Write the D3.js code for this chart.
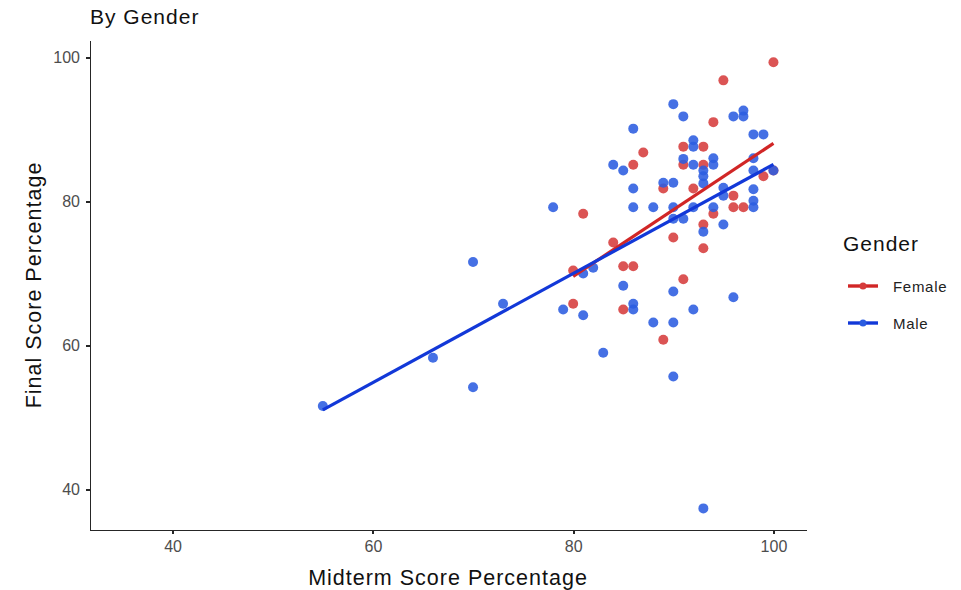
<!DOCTYPE html>
<html>
<head>
  <meta charset="utf-8">
  <title>By Gender</title>
  <style>
    body { margin: 0; background: #fff; }
    text { font-family: "Liberation Sans", Arial, sans-serif; }
    .axis path, .axis line { stroke: #262626; stroke-width: 1.8; shape-rendering: crispEdges; }
    .axis text { fill: #4d4d4d; font-size: 16px; font-family: "Liberation Sans", Arial, sans-serif; }
  </style>
</head>
<body>
<script src="https://d3js.org/d3.v7.min.js"></script>
<script>
  var width = 961, height = 590;

  var femaleMidterm = [80, 80, 81, 84, 85, 86, 85, 86, 87, 89, 89, 90, 91, 91, 91, 92, 93, 93, 93, 93, 94, 94, 95, 96, 96, 97, 99, 100, 100];
  var femaleFinal   = [65.8, 70.4, 78.3, 74.3, 71, 71, 65, 85.1, 86.8, 81.8, 60.8, 75, 87.6, 85.1, 69.2, 81.8, 87.6, 85.1, 76.8, 73.5, 91, 78.3, 96.8, 80.8, 79.2, 79.2, 83.5, 99.3, 84.3];

  var maleMidterm = [55, 66, 70, 70, 73, 78, 79, 81, 81, 82, 83, 84, 85, 85, 86, 86, 86, 86, 86, 88, 88, 89, 90, 90, 90, 90, 90, 90, 90, 91, 91, 91, 92, 92, 92, 92, 92, 93, 93, 93, 93, 93, 94, 94, 94, 95, 95, 95, 96, 96, 97, 97, 98, 98, 98, 98, 98, 98, 99, 100];
  var maleFinal   = [51.6, 58.3, 71.6, 54.2, 65.8, 79.2, 65, 64.2, 70, 70.8, 59, 85.1, 84.3, 68.3, 90.1, 81.8, 79.2, 65.8, 65, 79.2, 63.2, 82.6, 93.5, 82.6, 79.2, 77.6, 67.5, 63.2, 55.7, 91.8, 85.9, 77.6, 88.5, 87.6, 85.1, 79.2, 65, 84.3, 83.5, 82.5, 75.8, 37.4, 86, 85.1, 79.2, 81.9, 80.8, 76.8, 91.8, 66.7, 91.8, 92.6, 89.3, 86, 84.3, 81.7, 80.1, 79.2, 89.3, 84.3];

  var genders = ['Female', 'Male'];
  var xTicks = [40, 60, 80, 100];
  var yTicks = [40, 60, 80, 100];

  var pointColor = {Female: '#d63c3c', Male: '#2b5ce0'};
  var lineColor = {Female: '#d12626', Male: '#1238d8'};

  var padding = {left: 90, right: 155, top: 40, bottom: 60};

  var svg = d3.select('body').append('svg')
    .attr('width', width)
    .attr('height', height);

  var xScale = d3.scaleLinear().domain([31.75, 103.25]).range([padding.left, width - padding.right]);
  var yScale = d3.scaleLinear().domain([34.4, 102.4]).range([height - padding.bottom, padding.top]);

  var groups = {
    Female: femaleMidterm.map(function(d, i) { return {x: d, y: femaleFinal[i]}; }),
    Male: maleMidterm.map(function(d, i) { return {x: d, y: maleFinal[i]}; })
  };

  // least squares fit, like geom_smooth(method = "lm")
  function fit(pts) {
    var mx = d3.mean(pts, function(d) { return d.x; });
    var my = d3.mean(pts, function(d) { return d.y; });
    var sxy = d3.sum(pts, function(d) { return (d.x - mx) * (d.y - my); });
    var sxx = d3.sum(pts, function(d) { return (d.x - mx) * (d.x - mx); });
    var b = sxy / sxx, a = my - b * mx;
    var ext = d3.extent(pts, function(d) { return d.x; });
    return ext.map(function(x) { return {x: x, y: a + b * x}; });
  }

  // axes
  svg.append('g')
    .attr('class', 'axis')
    .attr('transform', 'translate(0,' + (height - padding.bottom) + ')')
    .call(d3.axisBottom(xScale).tickValues(xTicks).tickSize(4).tickPadding(7).tickSizeOuter(0));

  svg.append('g')
    .attr('class', 'axis')
    .attr('transform', 'translate(' + padding.left + ',0)')
    .call(d3.axisLeft(yScale).tickValues(yTicks).tickSize(4).tickPadding(6).tickSizeOuter(0));

  // points
  genders.forEach(function(g) {
    svg.append('g').selectAll('circle')
      .data(groups[g])
      .enter()
      .append('circle')
      .attr('cx', function(d) { return xScale(d.x); })
      .attr('cy', function(d) { return yScale(d.y); })
      .attr('r', 5)
      .attr('fill', pointColor[g])
      .attr('fill-opacity', 0.88);
  });

  var line = d3.line()
    .x(function(d) { return xScale(d.x); })
    .y(function(d) { return yScale(d.y); });

  genders.forEach(function(g) {
    svg.append('path')
      .datum(fit(groups[g]))
      .attr('d', line)
      .attr('fill', 'none')
      .attr('stroke', lineColor[g])
      .attr('stroke-width', 3.2);
  });

  // titles
  svg.append('text')
    .attr('x', 90).attr('y', 24)
    .attr('font-size', 21)
    .attr('letter-spacing', 1)
    .attr('fill', '#111')
    .text('By Gender');

  svg.append('text')
    .attr('x', (padding.left + width - padding.right) / 2)
    .attr('y', 585)
    .attr('text-anchor', 'middle')
    .attr('font-size', 21.5)
    .attr('letter-spacing', 1)
    .attr('fill', '#111')
    .text('Midterm Score Percentage');

  svg.append('text')
    .attr('transform', 'translate(41,285) rotate(-90)')
    .attr('text-anchor', 'middle')
    .attr('font-size', 21.5)
    .attr('letter-spacing', 1)
    .attr('fill', '#111')
    .text('Final Score Percentage');

  // legend
  var legend = svg.append('g').attr('transform', 'translate(843,0)');
  legend.append('text')
    .attr('x', 0).attr('y', 251)
    .attr('font-size', 21)
    .attr('letter-spacing', 1)
    .attr('fill', '#111')
    .text('Gender');

  var items = legend.selectAll('.item')
    .data(genders)
    .enter()
    .append('g')
    .attr('class', 'item')
    .attr('transform', function(d, i) { return 'translate(0,' + (286 + i * 37) + ')'; });

  items.append('line')
    .attr('x1', 5).attr('x2', 35)
    .attr('stroke', function(d) { return lineColor[d]; })
    .attr('stroke-width', 3.4);
  items.append('circle')
    .attr('cx', 20).attr('r', 3.5)
    .attr('fill', function(d) { return pointColor[d]; });
  items.append('text')
    .attr('x', 50).attr('y', 5.5)
    .attr('font-size', 15)
    .attr('letter-spacing', 0.7)
    .attr('fill', '#222')
    .text(function(d) { return d; });
</script>
</body>
</html>
